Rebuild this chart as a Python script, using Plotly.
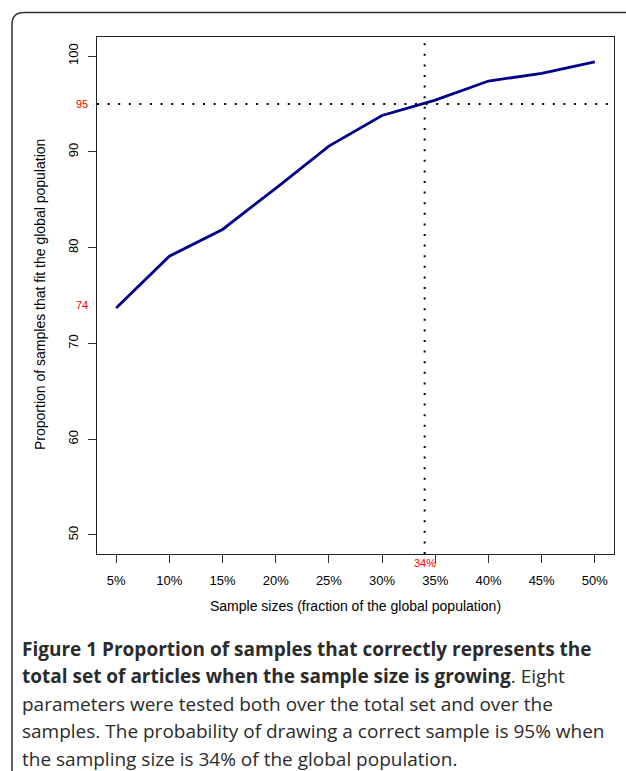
import plotly.graph_objects as go

# --- data ---
sample_pct = [5, 10, 15, 20, 25, 30, 35, 40, 45, 50]
proportion = [73.7, 79.1, 81.9, 86.2, 90.6, 93.8, 95.4, 97.4, 98.2, 99.4]
x_tick_vals = [5, 10, 15, 20, 25, 30, 35, 40, 45, 50]
x_tick_text = ["5%", "10%", "15%", "20%", "25%", "30%", "35%", "40%", "45%", "50%"]
y_tick_vals = [50, 60, 70, 80, 90, 100]
threshold = 95
threshold_pct = 34
start_label = 74

caption_lines = [
    "<b>Figure 1 Proportion of samples that correctly represents the</b>",
    "<b>total set of articles when the sample size is growing</b>. Eight",
    "parameters were tested both over the total set and over the",
    "samples. The probability of drawing a correct sample is 95% when",
    "the sampling size is 34% of the global population.",
]

# --- page geometry (pixels) ---
W, H = 626, 771
L, R, T, B = 97, 12, 37, 217
PW, PH = W - L - R, H - T - B


def px(x):
    return (x - L) / PW


def py(y):
    return (H - B - y) / PH


FONT = "Liberation Sans, Arial, sans-serif"
DOT = "2px,8.6px"


def label(text, x, y, xref="paper", yref="paper", size=11, color="red", **kw):
    fig.add_annotation(x=x, y=y, xref=xref, yref=yref, text=text, showarrow=False,
                       xanchor=kw.pop("xanchor", "center"), yanchor="middle",
                       font=dict(family=kw.pop("family", FONT), size=size, color=color), **kw)


fig = go.Figure()
fig.add_trace(go.Scatter(x=sample_pct, y=proportion, mode="lines",
                         line=dict(color="#00008B", width=2.8), hoverinfo="skip"))

# dotted reference lines
fig.add_shape(type="line", xref="paper", yref="y", x0=0, x1=1, y0=threshold, y1=threshold,
              line=dict(color="black", width=2, dash=DOT))
fig.add_shape(type="line", xref="x", yref="paper", x0=threshold_pct, x1=threshold_pct, y0=0, y1=1,
              line=dict(color="black", width=2, dash=DOT))

# red value labels
label(str(threshold), px(82), threshold, yref="y")
label(str(start_label), px(82), start_label, yref="y")
label(f"{threshold_pct}%", threshold_pct, py(563), xref="x")

# axis titles
label("Proportion of samples that fit the global population", px(40), py(295),
      size=14, color="black", textangle=-90)
label("Sample sizes (fraction of the global population)", px(355), py(606),
      size=14, color="black")

# caption
for i, line in enumerate(caption_lines):
    label(line, px(21), py(648.5 + i * 27.5), size=19, color="#2b2b2b",
          xanchor="left", family="Open Sans, sans-serif", borderpad=0)

# rounded card border
x0, y0, r = 12, 12.5, 12
card = (f"M {px(x0)},{py(790)} L {px(x0)},{py(y0 + r)} "
        f"Q {px(x0)},{py(y0)} {px(x0 + r)},{py(y0)} L {px(660)},{py(y0)}")
fig.add_shape(type="path", xref="paper", yref="paper", path=card,
              line=dict(color="#333333", width=1.5))

fig.update_xaxes(range=[3.2, 51.8], tickvals=x_tick_vals, ticktext=x_tick_text,
                 ticks="outside", ticklen=8, tickcolor="#333", showgrid=False, zeroline=False,
                 showline=True, mirror=True, linecolor="#222", linewidth=1,
                 tickfont=dict(family=FONT, size=13, color="black"), ticklabelstandoff=6)
fig.update_yaxes(range=[48, 102], tickvals=y_tick_vals, tickangle=-90,
                 ticks="outside", ticklen=8, tickcolor="#333", showgrid=False, zeroline=False,
                 showline=True, mirror=True, linecolor="#222", linewidth=1,
                 tickfont=dict(family=FONT, size=13, color="black"), ticklabelstandoff=5)
fig.update_layout(width=W, height=H, margin=dict(l=L, r=R, t=T, b=B),
                  plot_bgcolor="white", paper_bgcolor="white", showlegend=False)

# the page has a default 8px body margin; drop it so the figure sits at the window origin
fig.write_html("out.html", config={"displayModeBar": False},
               post_script="document.body.style.margin='0';document.body.style.overflow='hidden';")
